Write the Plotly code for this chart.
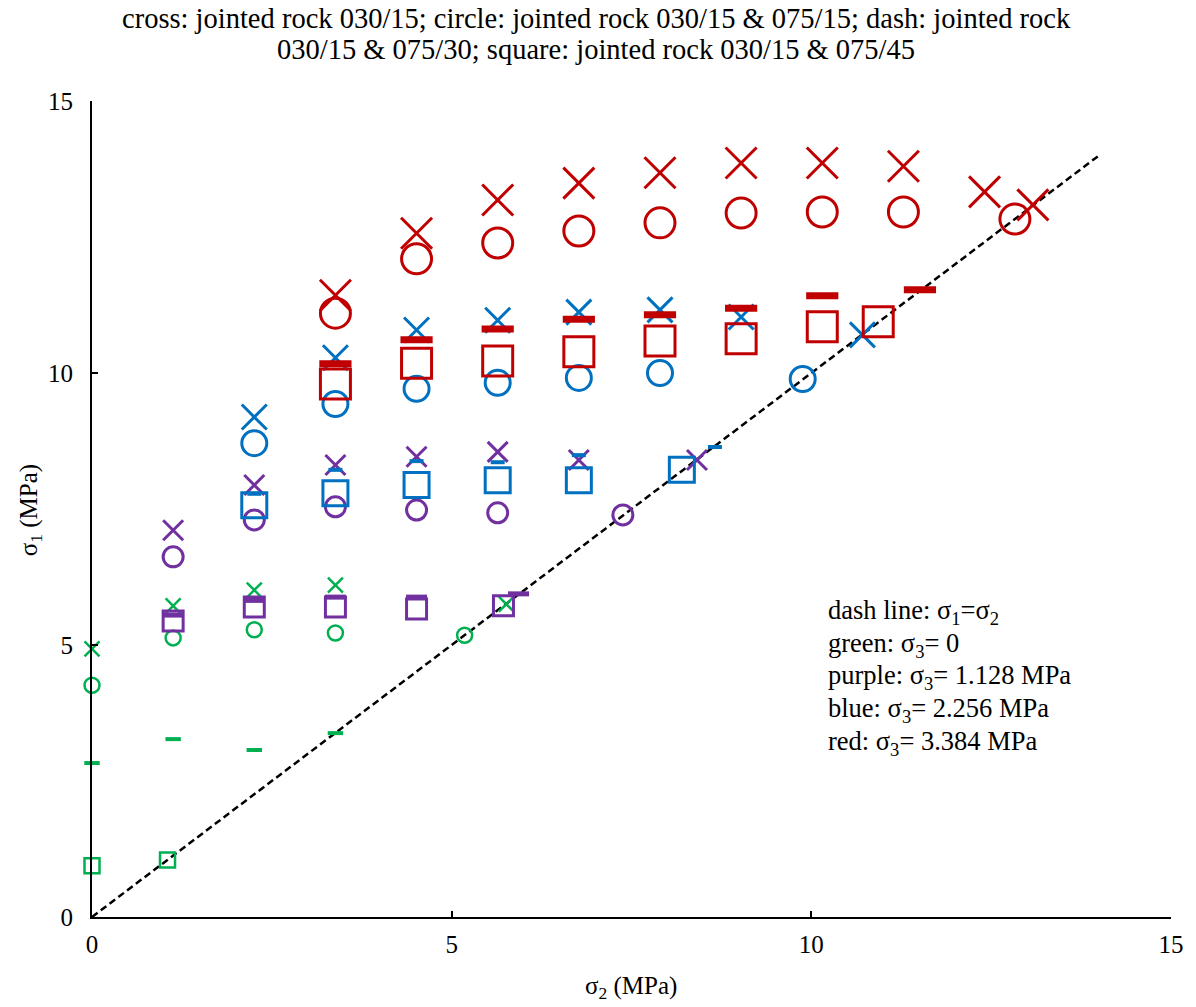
import plotly.graph_objects as go

# sigma2 values (MPa) and sigma1 values (MPa) per stress level and joint configuration
# green: sigma3 = 0
g_cross_x = [0, 1.128, 2.256, 3.384, 5.76]
g_cross_y = [4.93, 5.72, 6.01, 6.10, 5.75]
g_circ_x = [0, 1.128, 2.256, 3.384, 5.18]
g_circ_y = [4.26, 5.13, 5.28, 5.22, 5.18]
g_dash_x = [0, 1.128, 2.256, 3.384]
g_dash_y = [2.83, 3.27, 3.07, 3.38]
g_sq_x = [0, 1.05]
g_sq_y = [0.94, 1.05]

# purple: sigma3 = 1.128
p_cross_x = [1.128, 2.256, 3.384, 4.512, 5.64, 6.768, 8.41]
p_cross_y = [7.11, 7.94, 8.31, 8.46, 8.55, 8.40, 8.40]
p_circ_x = [1.128, 2.256, 3.384, 4.512, 5.64, 7.38]
p_circ_y = [6.62, 7.30, 7.54, 7.48, 7.43, 7.39]
p_dash_x = [1.128, 2.256, 3.384, 4.512, 5.93]
p_dash_y = [5.55, 5.82, 5.88, 5.88, 5.94]
p_sq_x = [1.128, 2.256, 3.384, 4.512, 5.72]
p_sq_y = [5.44, 5.70, 5.70, 5.66, 5.72]

# blue: sigma3 = 2.256
b_cross_x = [2.256, 3.384, 4.512, 5.64, 6.768, 7.896, 9.024, 10.71]
b_cross_y = [9.19, 10.28, 10.79, 10.97, 11.12, 11.16, 11.03, 10.70]
b_circ_x = [2.256, 3.384, 4.512, 5.64, 6.768, 7.896, 9.88]
b_circ_y = [8.71, 9.43, 9.71, 9.82, 9.91, 10.00, 9.89]
b_dash_x = [2.256, 3.384, 4.512, 5.64, 6.768, 8.66]
b_dash_y = [7.78, 8.22, 8.38, 8.36, 8.49, 8.64]
b_sq_x = [2.256, 3.384, 4.512, 5.64, 6.768, 8.20]
b_sq_y = [7.57, 7.79, 7.94, 8.03, 8.03, 8.22]

# red: sigma3 = 3.384
r_cross_x = [3.384, 4.512, 5.64, 6.768, 7.896, 9.024, 10.152, 11.28, 12.408, 13.08]
r_cross_y = [11.43, 12.57, 13.18, 13.49, 13.68, 13.86, 13.86, 13.80, 13.33, 13.09]
r_circ_x = [3.384, 4.512, 5.64, 6.768, 7.896, 9.024, 10.152, 11.28, 12.83]
r_circ_y = [11.10, 12.10, 12.39, 12.61, 12.76, 12.94, 12.96, 12.96, 12.83]
r_dash_x = [3.384, 4.512, 5.64, 6.768, 7.896, 9.024, 10.152, 11.51]
r_dash_y = [10.17, 10.61, 10.81, 10.99, 11.07, 11.19, 11.42, 11.53]
r_sq_x = [3.384, 4.512, 5.64, 6.768, 7.896, 9.024, 10.152, 10.93]
r_sq_y = [9.80, 10.18, 10.22, 10.39, 10.59, 10.63, 10.85, 10.94]

diag_x = [0, 14]
diag_y = [0, 14]

title_lines = [
    "cross: jointed rock 030/15; circle: jointed rock 030/15 &amp; 075/15; dash: jointed rock",
    "030/15 &amp; 075/30; square: jointed rock 030/15 &amp; 075/45",
]
notes = [
    "dash line: σ<sub>1</sub>=σ<sub>2</sub>",
    "green: σ<sub>3</sub>= 0",
    "purple: σ<sub>3</sub>= 1.128 MPa",
    "blue: σ<sub>3</sub>= 2.256 MPa",
    "red: σ<sub>3</sub>= 3.384 MPa",
]
x_title = "σ<sub>2</sub> (MPa)"
y_title = "σ<sub>1</sub> (MPa)"

GREEN = "#00B050"
PURPLE = "#7030A0"
BLUE = "#0070C0"
RED = "#C00000"

fig = go.Figure()

fig.add_trace(go.Scatter(x=diag_x, y=diag_y, mode="lines",
                         line=dict(color="black", width=2.5, dash="7px,4px"),
                         showlegend=False, hoverinfo="skip"))

groups = [
    # color, data, sizes (cross, circle, dash, square), line width, dash thickness
    (GREEN, (g_cross_x, g_cross_y, g_circ_x, g_circ_y, g_dash_x, g_dash_y, g_sq_x, g_sq_y), (15, 15, 11, 15), 2.5, 4),
    (PURPLE, (p_cross_x, p_cross_y, p_circ_x, p_circ_y, p_dash_x, p_dash_y, p_sq_x, p_sq_y), (20, 20, 15, 20), 3, 5),
    (BLUE, (b_cross_x, b_cross_y, b_circ_x, b_circ_y, b_dash_x, b_dash_y, b_sq_x, b_sq_y), (25, 25, 10, 25), 3, 4),
    (RED, (r_cross_x, r_cross_y, r_circ_x, r_circ_y, r_dash_x, r_dash_y, r_sq_x, r_sq_y), (31, 30, 23, 30), 3, 7),
]

for color, d, sizes, lw, dth in groups:
    cx, cy, ox, oy, dx, dy, sx, sy = d
    fig.add_trace(go.Scatter(x=sx, y=sy, mode="markers", showlegend=False, cliponaxis=False,
                             marker=dict(symbol="square-open", size=sizes[3], color=color,
                                         line=dict(color=color, width=lw))))
    fig.add_trace(go.Scatter(x=ox, y=oy, mode="markers", showlegend=False, cliponaxis=False,
                             marker=dict(symbol="circle-open", size=sizes[1], color=color,
                                         line=dict(color=color, width=lw))))
    fig.add_trace(go.Scatter(x=dx, y=dy, mode="markers", showlegend=False, cliponaxis=False,
                             marker=dict(symbol="line-ew", size=sizes[2], color=color,
                                         line=dict(color=color, width=dth))))
    fig.add_trace(go.Scatter(x=cx, y=cy, mode="markers", showlegend=False, cliponaxis=False,
                             marker=dict(symbol="x-thin-open", size=sizes[0], color=color,
                                         line=dict(color=color, width=lw))))

FONT = "Liberation Serif, Times New Roman, serif"
PW = 1175 - 92
PH = 917 - 101

for i, t in enumerate(title_lines):
    fig.add_annotation(text=t, xref="paper", yref="paper",
                       x=(598 - 92) / PW, y=(917 - (19 + 30 * i)) / PH,
                       xanchor="center", yanchor="middle", showarrow=False,
                       font=dict(family=FONT, size=28.5, color="black"))

for i, t in enumerate(notes):
    fig.add_annotation(text=t, xref="paper", yref="paper",
                       x=(829 - 92) / PW, y=(917 - (612 + 32.7 * i)) / PH,
                       xanchor="left", yanchor="middle", showarrow=False,
                       font=dict(family=FONT, size=26.5, color="black"))

fig.add_annotation(text=y_title, xref="paper", yref="paper",
                   x=(30 - 92) / PW, y=(917 - 510) / PH, textangle=-90,
                   xanchor="center", yanchor="middle", showarrow=False,
                   font=dict(family=FONT, size=25, color="black"))
fig.add_annotation(text=x_title, xref="paper", yref="paper",
                   x=(633 - 92) / PW, y=(917 - 988) / PH,
                   xanchor="center", yanchor="middle", showarrow=False,
                   font=dict(family=FONT, size=25, color="black"))

fig.update_layout(
    width=1196, height=1007,
    paper_bgcolor="white", plot_bgcolor="white",
    margin=dict(l=92, r=21, t=101, b=90),
    font=dict(family=FONT, size=25, color="black"),
    xaxis=dict(range=[0, 15], tickvals=[0, 5, 10, 15], showgrid=False, zeroline=False,
               showline=True, linecolor="black", linewidth=2,
               ticks="inside", ticklen=6, tickwidth=2, tickcolor="black",
               ticklabelstandoff=4,
               tickfont=dict(family=FONT, size=25)),
    yaxis=dict(range=[0, 15], tickvals=[0, 5, 10, 15], showgrid=False, zeroline=False,
               showline=True, linecolor="black", linewidth=2,
               ticks="inside", ticklen=6, tickwidth=2, tickcolor="black",
               ticklabelstandoff=12,
               tickfont=dict(family=FONT, size=25)),
)

fig.write_html("out.html")
